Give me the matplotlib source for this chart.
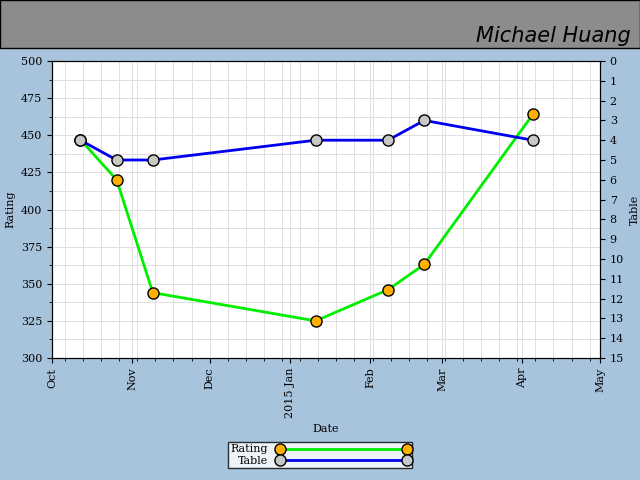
import numpy as np
import pandas as pd
import matplotlib
matplotlib.use("Agg")
import matplotlib.pyplot as plt
import matplotlib.dates as mdates
from matplotlib.lines import Line2D

# Data
dates = pd.to_datetime(["2014-10-12", "2014-10-26", "2014-11-09", "2015-01-11",
                        "2015-02-08", "2015-02-22", "2015-04-05"])
rating = [447, 420, 344, 325, 346, 363, 464]
table = [4, 5, 5, 4, 4, 3, 4]

bg = "#a8c4dc"
fig = plt.figure(figsize=(6.4, 4.8), dpi=100, facecolor=bg)
plt.rcParams['font.family'] = 'DejaVu Serif'

# header band
fig.patches.append(plt.Rectangle((0, 1 - 48 / 480), 1, 48 / 480, transform=fig.transFigure,
                                 facecolor="#8c8c8c", edgecolor="black", lw=1))
fig.text(0.985, 1 - 36 / 480, "Michael Huang", ha="right", va="center", fontsize=15,
         family="DejaVu Sans", fontstyle="italic")

ax = fig.add_axes([52 / 640, 1 - 358 / 480, 548 / 640, 297 / 480])
ax.set_facecolor("white")
ax.plot(dates, rating, color="#00ee00", lw=2, marker="o", ms=8,
        mfc="#ffb000", mec="black", zorder=3)
ax.set_ylim(300, 500)
ax.set_xlim(pd.Timestamp("2014-10-01"), pd.Timestamp("2015-05-01"))
ax.set_yticks(np.arange(300, 501, 25))
ax.set_yticks(np.arange(300, 501, 12.5), minor=True)
ax.xaxis.set_major_locator(mdates.MonthLocator())
ax.xaxis.set_minor_locator(mdates.WeekdayLocator(byweekday=mdates.MO))
ax.xaxis.set_major_formatter(mdates.DateFormatter("%b"))
labels = ["Oct", "Nov", "Dec", "2015 Jan", "Feb", "Mar", "Apr", "May"]
ax.set_xticks(ax.get_xticks())
ax.set_xticklabels(labels, rotation=90, fontsize=8)
ax.tick_params(axis="y", labelsize=8)
ax.grid(True, which="both", color="#e0e0e0", lw=0.7)
ax.set_axisbelow(True)
ax.set_xlabel("Date", fontsize=8)
ax.set_ylabel("Rating", fontsize=8)

ax2 = ax.twinx()
ax2.plot(dates, table, color="#0000ee", lw=2, marker="o", ms=8,
         mfc="#c8c8c8", mec="black", zorder=3)
ax2.set_ylim(15, 0)
ax2.set_yticks(range(0, 16))
ax2.tick_params(axis="y", labelsize=8)
ax2.set_ylabel("Table", fontsize=8)

handles = [
    Line2D([], [], color="#00ee00", lw=2, marker="o", ms=8, mfc="#ffb000", mec="black"),
    Line2D([], [], color="#0000ee", lw=2, marker="o", ms=8, mfc="#c8c8c8", mec="black"),
]
fig.legend(handles, ["Rating", "Table"], loc="center", bbox_to_anchor=(0.5, 1 - 455 / 480),
           fontsize=8, handlelength=12, numpoints=2, frameon=True, fancybox=False,
           edgecolor="black", borderpad=0.2, labelspacing=0.1, markerfirst=False)

fig.savefig("out.png", dpi=100, facecolor=bg)
